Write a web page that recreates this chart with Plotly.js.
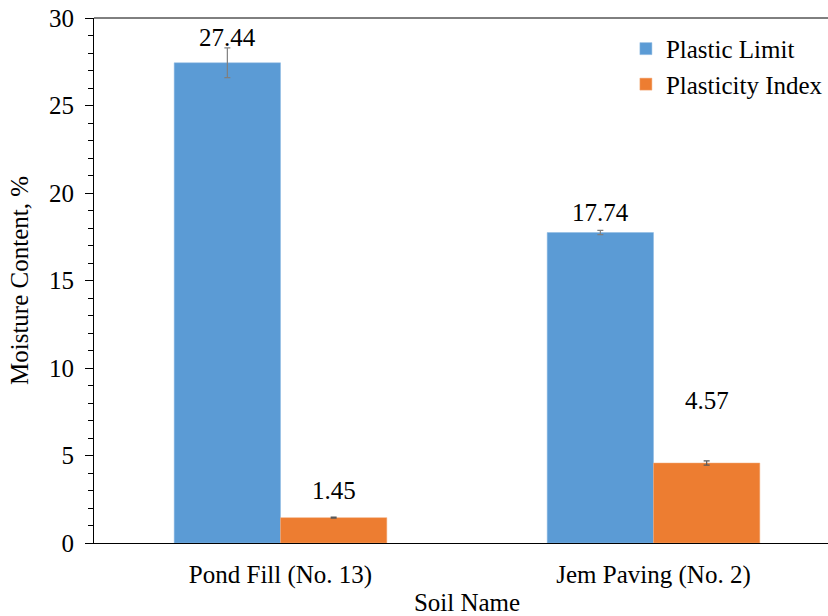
<!DOCTYPE html>
<html>
<head>
<meta charset="utf-8">
<script src="https://cdn.plot.ly/plotly-3.0.1.min.js"></script>
<style>html,body{margin:0;padding:0;background:#fff;overflow:hidden;width:828px;height:616px;}#chart{width:840px;height:616px;}</style>
</head>
<body>
<div id="chart"></div>
<script>
const categories = ["Pond Fill (No. 13)", "Jem Paving (No. 2)"];
const plasticLimit = [27.44, 17.74];
const plasticLimitErr = [0.85, 0.12];
const plasticityIndex = [1.45, 4.57];
const plasticityIndexErr = [0.03, 0.12];
const seriesNames = ["Plastic Limit", "Plasticity Index"];
const yTicks = [0, 5, 10, 15, 20, 25, 30];

const labelShiftPL = [25, 20];
const labelShiftPI = [27, 63];

const font = "'Liberation Serif', 'Times New Roman', Times, serif";

const traces = [
  {
    type: "bar", name: seriesNames[0], x: categories, y: plasticLimit,
    marker: {color: "#5B9BD5", line: {color: "#8DB9E3", width: 0.5}},
    error_y: {type: "data", array: plasticLimitErr, visible: true, color: "#7F7F7F", thickness: 1.2, width: 3}
  },
  {
    type: "bar", name: seriesNames[1], x: categories, y: plasticityIndex,
    marker: {color: "#ED7D31", line: {color: "#F2A877", width: 0.5}},
    error_y: {type: "data", array: plasticityIndexErr, visible: true, color: "#595959", thickness: 1.2, width: 3}
  }
];

const annotations = [];
categories.forEach((c, i) => {
  annotations.push({x: c, y: plasticLimit[i], xref: "x", yref: "y", text: plasticLimit[i].toFixed(2),
    showarrow: false, xshift: -53, yshift: labelShiftPL[i], font: {family: font, size: 25, color: "#000"}});
  annotations.push({x: c, y: plasticityIndex[i], xref: "x", yref: "y", text: plasticityIndex[i].toFixed(2),
    showarrow: false, xshift: 53, yshift: labelShiftPI[i], font: {family: font, size: 25, color: "#000"}});
});

const layout = {
  width: 840, height: 616,
  margin: {l: 94, r: 0, t: 18, b: 73, pad: 0, autoexpand: false},
  paper_bgcolor: "#fff", plot_bgcolor: "#fff",
  barmode: "group", bargap: 0.43, bargroupgap: 0,
  font: {family: font, size: 25, color: "#000"},
  showlegend: true,
  legend: {x: 0.713, y: 0.985, xanchor: "left", yanchor: "top", font: {family: font, size: 25, color: "#000"},
    bgcolor: "rgba(0,0,0,0)", borderwidth: 0, tracegroupgap: 0, itemwidth: 30},
  shapes: [{type: "line", xref: "paper", yref: "paper", x0: 0, x1: 1, y0: 1, y1: 1, line: {color: "#000", width: 1}}],
  xaxis: {
    range: [-0.5, 1.5], automargin: false,
    showline: true, linecolor: "#000", linewidth: 1, mirror: false,
    ticks: "", showgrid: false, zeroline: false,
    ticklabelstandoff: 9,
    tickfont: {family: font, size: 25, color: "#000"},
    title: {text: "Soil Name", font: {family: font, size: 25, color: "#000"}, standoff: 6}
  },
  yaxis: {
    range: [0, 30], tickvals: yTicks, ticktext: yTicks.map(String), automargin: false,
    showline: true, linecolor: "#000", linewidth: 1, mirror: false,
    ticks: "outside", ticklen: 8, tickcolor: "#000", tickwidth: 1,
    ticklabelstandoff: 6,
    minor: {dtick: 1, ticks: "outside", ticklen: 5, tickcolor: "#000", tickwidth: 1, showgrid: false},
    showgrid: false, zeroline: false,
    tickfont: {family: font, size: 25, color: "#000"},
    title: {text: "Moisture Content, %", font: {family: font, size: 25, color: "#000"}, standoff: 13}
  },
  annotations: annotations
};

Plotly.newPlot("chart", traces, layout, {staticPlot: true, displayModeBar: false});
</script>
</body>
</html>
